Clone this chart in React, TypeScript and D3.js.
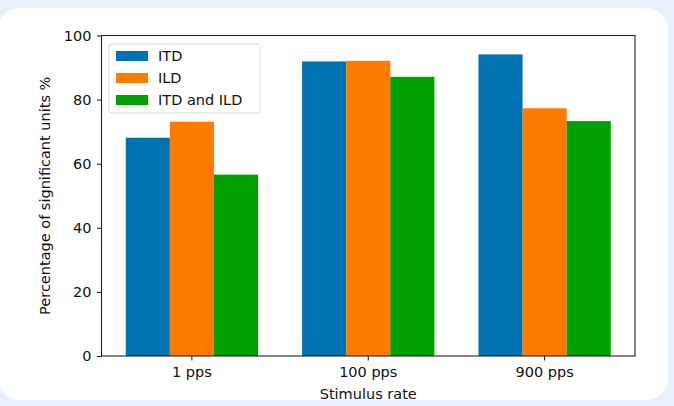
import * as d3 from "d3";
import {useEffect, useRef} from "react";

const W = 674;
const H = 406;
const MARGIN = {top: 35.5, right: 39, bottom: 50, left: 101.5};

// data
const categories = ["1 pps", "100 pps", "900 pps"];
const seriesNames = ["ITD", "ILD", "ITD and ILD"];
const itdValues = [68.1, 91.9, 94.1];
const ildValues = [73.1, 92.1, 77.3];
const bothValues = [56.6, 87.1, 73.3];
const yTicks = [0, 20, 40, 60, 80, 100];
const colors = ["#0072b2", "#ff7b00", "#00a000"];

const FONT = "DejaVu Sans, sans-serif";
const FS = "14.5px";

const App = () => {
    const ref = useRef<SVGSVGElement>(null);

    useEffect(() => {
        const svg = d3.select(ref.current);
        svg.selectAll("*").remove();

        const boundsWidth = W - MARGIN.left - MARGIN.right;
        const boundsHeight = H - MARGIN.top - MARGIN.bottom;

        // background + card
        svg.append("rect").attr("width", W).attr("height", H).attr("fill", "#e8f1fb");
        svg.append("rect")
            .attr("x", -2).attr("y", 8)
            .attr("width", 670).attr("height", 392)
            .attr("rx", 22)
            .attr("fill", "white");

        const g = svg.append("g")
            .attr("transform", `translate(${MARGIN.left},${MARGIN.top})`);

        const x = d3.scaleBand()
            .domain(categories)
            .range([0, boundsWidth])
            .paddingInner(0.25)
            .paddingOuter(0.1375);

        const xSub = d3.scaleBand()
            .domain(seriesNames)
            .range([0, x.bandwidth()]);

        const y = d3.scaleLinear().domain([0, 100]).range([boundsHeight, 0]);

        const rows = categories.map((c, i) => ({
            cat: c,
            vals: [itdValues[i], ildValues[i], bothValues[i]],
        }));

        // bars
        g.selectAll("g.grp")
            .data(rows)
            .join("g")
            .attr("class", "grp")
            .attr("transform", d => `translate(${x(d.cat)},0)`)
            .selectAll("rect")
            .data(d => d.vals.map((v, k) => ({v, k})))
            .join("rect")
            .attr("x", d => xSub(seriesNames[d.k])!)
            .attr("y", d => y(d.v))
            .attr("width", xSub.bandwidth())
            .attr("height", d => boundsHeight - y(d.v))
            .attr("fill", d => colors[d.k]);

        // axes
        const yAxis = g.append("g").call(
            d3.axisLeft(y).tickValues(yTicks).tickSize(4.5).tickPadding(5.5)
        );
        const xAxis = g.append("g")
            .attr("transform", `translate(0,${boundsHeight})`)
            .call(d3.axisBottom(x).tickSize(4.5).tickPadding(6));

        [yAxis, xAxis].forEach(a => {
            a.select(".domain").remove();
            a.selectAll("line").attr("stroke", "#111").attr("stroke-width", 1);
            a.selectAll("text")
                .attr("fill", "#111")
                .style("font-family", FONT)
                .style("font-size", FS);
        });

        // frame
        g.append("rect")
            .attr("width", boundsWidth)
            .attr("height", boundsHeight)
            .attr("fill", "none")
            .attr("stroke", "#222")
            .attr("stroke-width", 1.1);

        // axis labels
        g.append("text")
            .attr("x", boundsWidth / 2)
            .attr("y", boundsHeight + 43)
            .attr("text-anchor", "middle")
            .attr("fill", "#111")
            .style("font-family", FONT)
            .style("font-size", FS)
            .text("Stimulus rate");

        g.append("text")
            .attr("transform", `translate(${-52},${boundsHeight / 2}) rotate(-90)`)
            .attr("text-anchor", "middle")
            .attr("fill", "#111")
            .style("font-family", FONT)
            .style("font-size", FS)
            .text("Percentage of significant units %");

        // legend
        const legend = svg.append("g").attr("transform", "translate(109,44)");
        legend.append("rect")
            .attr("width", 151).attr("height", 69)
            .attr("rx", 3)
            .attr("fill", "white")
            .attr("fill-opacity", 0.85)
            .attr("stroke", "#d8d8d8");
        const items = legend.selectAll("g.item")
            .data(seriesNames)
            .join("g")
            .attr("class", "item")
            .attr("transform", (d, i) => `translate(7,${12 + i * 22})`);
        items.append("rect")
            .attr("y", -5)
            .attr("width", 32).attr("height", 10)
            .attr("fill", (d, i) => colors[i]);
        items.append("text")
            .attr("x", 42)
            .attr("dy", "0.35em")
            .attr("fill", "#111")
            .style("font-family", FONT)
            .style("font-size", FS)
            .text(d => d);
    }, []);

    return (
        <svg ref={ref} width={W} height={H}
             style={{position: "absolute", left: 0, top: 0, display: "block"}}/>
    );
};

export default App;
